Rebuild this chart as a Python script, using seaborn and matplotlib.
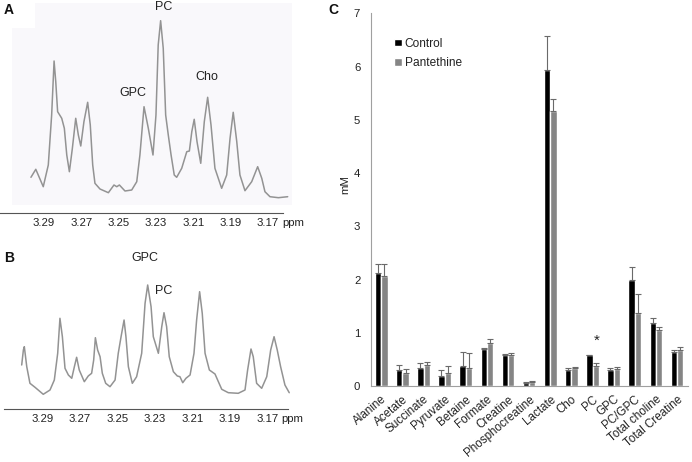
import numpy as np
import pandas as pd
import matplotlib
matplotlib.use('Agg')
import matplotlib.pyplot as plt
import seaborn as sns
from matplotlib.patches import Rectangle

sns.set_style('white')
plt.rcParams['font.family'] = ['Liberation Sans', 'DejaVu Sans']

# ---- panel C data (mM, mean and upper error) ----
metabolites = ['Alanine', 'Acetate', 'Succinate', 'Pyruvate', 'Betaine', 'Formate',
               'Creatine', 'Phosphocreatine', 'Lactate', 'Cho', 'PC', 'GPC',
               'PC/GPC', 'Total choline', 'Total Creatine']
control_mean = [2.13, 0.31, 0.345, 0.20, 0.38, 0.70, 0.58, 0.07, 5.93, 0.30, 0.58, 0.30, 2.00, 1.19, 0.64]
control_err = [0.17, 0.10, 0.10, 0.10, 0.26, 0.02, 0.03, 0.01, 0.65, 0.05, 0.01, 0.05, 0.24, 0.09, 0.05]
panteth_mean = [2.08, 0.26, 0.41, 0.26, 0.35, 0.82, 0.59, 0.09, 5.16, 0.35, 0.38, 0.32, 1.38, 1.05, 0.675]
panteth_err = [0.22, 0.07, 0.04, 0.12, 0.27, 0.07, 0.04, 0.01, 0.24, 0.02, 0.05, 0.05, 0.35, 0.06, 0.055]
groups = ['Control', 'Pantethine']

# ---- panel A spectrum (ppm, intensity a.u.) ----
ppm_a = [3.2970, 3.2944, 3.2904, 3.2877, 3.2859, 3.2846, 3.2837, 3.2827, 3.2805, 3.2791,
         3.2778, 3.2764, 3.2748, 3.2730, 3.2716, 3.2703, 3.2686, 3.2666, 3.2652, 3.2639,
         3.2627, 3.2600, 3.2555, 3.2525, 3.2510, 3.2496, 3.2466, 3.2430, 3.2403, 3.2386,
         3.2364, 3.2341, 3.2316, 3.2300, 3.2288, 3.2275, 3.2261, 3.2248, 3.2234, 3.2219,
         3.2202, 3.2189, 3.2162, 3.2135, 3.2121, 3.2108, 3.2095, 3.2080, 3.2060, 3.2041,
         3.2023, 3.2005, 3.1984, 3.1948, 3.1921, 3.1903, 3.1886, 3.1867, 3.1850, 3.1823,
         3.1787, 3.1755, 3.1733, 3.1716, 3.1689, 3.1644, 3.1594]
int_a = [35.7, 43.7, 26.3, 48, 98, 152, 131.3, 101.3, 94.7, 84.7,
         58, 41.3, 64.7, 94.7, 78, 67, 91.3, 110.7, 88, 48,
         29.7, 24, 20.3, 28, 26.3, 28, 22, 23, 31.3, 58,
         106.3, 84.7, 58, 98, 168, 192.3, 164.7, 98, 78, 58,
         38, 35.7, 44.7, 61.3, 62, 81.3, 93.7, 71.3, 49.7, 91.3,
         115.7, 88, 44.7, 24.7, 38, 74.7, 100.7, 71.3, 38, 22.3,
         31.3, 46.3, 34.7, 21.3, 16.3, 15.3, 16.3]

# ---- panel B spectrum ----
ppm_b = [3.3011, 3.3002, 3.2997, 3.2984, 3.2967, 3.2940, 3.2896, 3.2860, 3.2837, 3.2819,
         3.2807, 3.2794, 3.2780, 3.2762, 3.2744, 3.2730, 3.2718, 3.2704, 3.2677, 3.2656,
         3.2638, 3.2627, 3.2618, 3.2606, 3.2593, 3.2581, 3.2563, 3.2540, 3.2513, 3.2496,
         3.2481, 3.2465, 3.2455, 3.2442, 3.2421, 3.2398, 3.2371, 3.2353, 3.2339, 3.2321,
         3.2309, 3.2282, 3.2264, 3.2252, 3.2238, 3.2224, 3.2202, 3.2181, 3.2167, 3.2152,
         3.2135, 3.2113, 3.2092, 3.2078, 3.2062, 3.2048, 3.2033, 3.2010, 3.1980, 3.1962,
         3.1944, 3.1909, 3.1856, 3.1820, 3.1806, 3.1788, 3.1776, 3.1758, 3.1731, 3.1704,
         3.1683, 3.1665, 3.1648, 3.1630, 3.1607, 3.1584]
int_b = [44, 59, 62.3, 42.3, 25.7, 21.7, 14.7, 19, 29, 55.7,
         90.7, 72.3, 40.7, 34, 30.7, 42.3, 51.7, 39, 27.3, 33,
         35.7, 49, 71.3, 59, 52.3, 35.7, 25.7, 22.3, 29, 55.7,
         72.3, 89, 72.3, 42.3, 25.7, 32.3, 55.7, 105.7, 124, 102.3,
         72.3, 55.7, 82.3, 96.3, 82.3, 52.3, 37.3, 33, 32.3, 26.3,
         30.7, 34, 55.7, 89, 117.3, 95.7, 55.7, 39, 35, 27.3,
         19.7, 16.3, 15.7, 19, 39, 60, 52.3, 25.7, 20.7, 32.3,
         59, 72.3, 59, 42.3, 24, 16.3]

spec_ticks = [3.29, 3.27, 3.25, 3.23, 3.21, 3.19, 3.17]

W, H = 692, 462
fig = plt.figure(figsize=(W / 100, H / 100), dpi=100)


def px_axes(l, t, r, b):
    return fig.add_axes([l / W, 1 - b / H, (r - l) / W, (b - t) / H])


def px_text(x, y, s, **kw):
    fig.text(x / W, 1 - y / H, s, ha='center', va='center', **kw)


txt = '#222222'
curve = '#939393'


def style_spectrum(ax, left_ppm, right_ppm):
    for s in ['left', 'top', 'right']:
        ax.spines[s].set_visible(False)
    ax.spines['bottom'].set_color('#555555')
    ax.spines['bottom'].set_linewidth(0.8)
    ax.spines['bottom'].set_bounds(left_ppm, right_ppm)
    ax.set_yticks([])
    ax.set_xticks(spec_ticks)
    ax.set_xticklabels([f'{t:.2f}' for t in spec_ticks])
    ax.tick_params(axis='x', direction='out', length=2.2, width=0.8, color='#555555',
                   labelsize=8.2, labelcolor=txt, pad=1.5)
    ax.set_xlabel('')
    ax.set_ylabel('')
    ax.patch.set_alpha(0)
    ax.annotate('ppm', xy=(3.17, 0), xycoords=('data', 'axes fraction'),
                xytext=(10, -3.7), textcoords='offset points', ha='left', va='top',
                fontsize=8.2, color=txt, annotation_clip=False)


# ---- panel A ----
axA = px_axes(0, 0, 292, 213)
axA.add_patch(Rectangle((0.041, 0.0376), 0.959, 0.831, transform=axA.transAxes,
                        color='#f9f8fb', zorder=0, lw=0))
axA.add_patch(Rectangle((0.12, 0.868), 0.88, 0.118, transform=axA.transAxes,
                        color='#f9f8fb', zorder=0, lw=0))
sns.lineplot(x=ppm_a, y=int_a, sort=False, estimator=None, color=curve, linewidth=1.1, ax=axA)
axA.set_xlim(3.31358, 3.15710)
axA.set_ylim(0, 213)
style_spectrum(axA, 3.3136, 3.1620)

# ---- panel B ----
axB = px_axes(0, 230, 292, 409)
sns.lineplot(x=ppm_b, y=int_b, sort=False, estimator=None, color=curve, linewidth=1.1, ax=axB)
axB.set_xlim(3.31267, 3.15693)
axB.set_ylim(0, 179)
style_spectrum(axB, 3.3107, 3.1591)

for ax in (axA, axB):
    for ln in ax.get_lines():
        ln.set_solid_joinstyle('round')

px_text(9, 10, 'A', fontsize=10, fontweight='bold', color='#111111')
px_text(164, 7, 'PC', fontsize=9, color=txt)
px_text(133, 93, 'GPC', fontsize=9, color=txt)
px_text(207, 77, 'Cho', fontsize=9, color=txt)
px_text(9, 258, 'B', fontsize=10, fontweight='bold', color='#111111')
px_text(145, 258, 'GPC', fontsize=9, color=txt)
px_text(164, 291, 'PC', fontsize=9, color=txt)

# ---- panel C ----
df = pd.DataFrame({
    'Metabolite': metabolites * 2,
    'Group': [groups[0]] * len(metabolites) + [groups[1]] * len(metabolites),
    'mM': control_mean + panteth_mean,
})
axC = px_axes(370.7, 13.3, 687.6, 386.4)
sns.barplot(data=df, x='Metabolite', y='mM', hue='Group', hue_order=groups,
            palette=['#000000', '#858585'], width=0.6, errorbar=None, saturation=1,
            ax=axC)
for cont, err in zip(axC.containers, [control_err, panteth_err]):
    xs = [p.get_x() + p.get_width() / 2 for p in cont.patches]
    hs = [p.get_height() for p in cont.patches]
    axC.errorbar(xs, hs, yerr=[np.zeros(len(err)), err], fmt='none', ecolor='#6a6a6a',
                 elinewidth=0.8, capsize=2, capthick=0.8, zorder=3)

axC.set_xlim(-0.5, len(metabolites) - 0.5)
axC.set_ylim(0, 7)
axC.set_yticks(range(0, 8))
axC.set_xticks(np.arange(-0.5, len(metabolites), 1), minor=True)
axC.set_xticks(range(len(metabolites)))
axC.set_xticklabels(metabolites, rotation=40, ha='right', rotation_mode='anchor')
axC.tick_params(axis='x', which='major', length=0, labelsize=8.4, labelcolor=txt, pad=5)
axC.tick_params(axis='x', which='minor', length=3, width=0.7, color='#a0a0a0', direction='out')
axC.tick_params(axis='y', length=2.5, width=0.7, color='#a0a0a0', direction='out',
                labelsize=8.2, labelcolor=txt, pad=5)
for s in ['top', 'right']:
    axC.spines[s].set_visible(False)
for s in ['left', 'bottom']:
    axC.spines[s].set_color('#a0a0a0')
    axC.spines[s].set_linewidth(0.8)
axC.set_xlabel('')
axC.set_ylabel('')
axC.text(10.18, 0.85, '*', ha='center', va='center', fontsize=11, color=txt)

sns.move_legend(axC, 'upper left', bbox_to_anchor=(0.06, 0.947), frameon=False, title=None,
                fontsize=8.6, handlelength=0.6, handleheight=0.6, handletextpad=0.25,
                labelspacing=0.6, borderaxespad=0)
for t in axC.get_legend().get_texts():
    t.set_color(txt)

px_text(333, 10, 'C', fontsize=10, fontweight='bold', color='#111111')
px_text(345, 185, 'mM', fontsize=8.2, color=txt, rotation=90)

fig.savefig('out.png', dpi=100)
